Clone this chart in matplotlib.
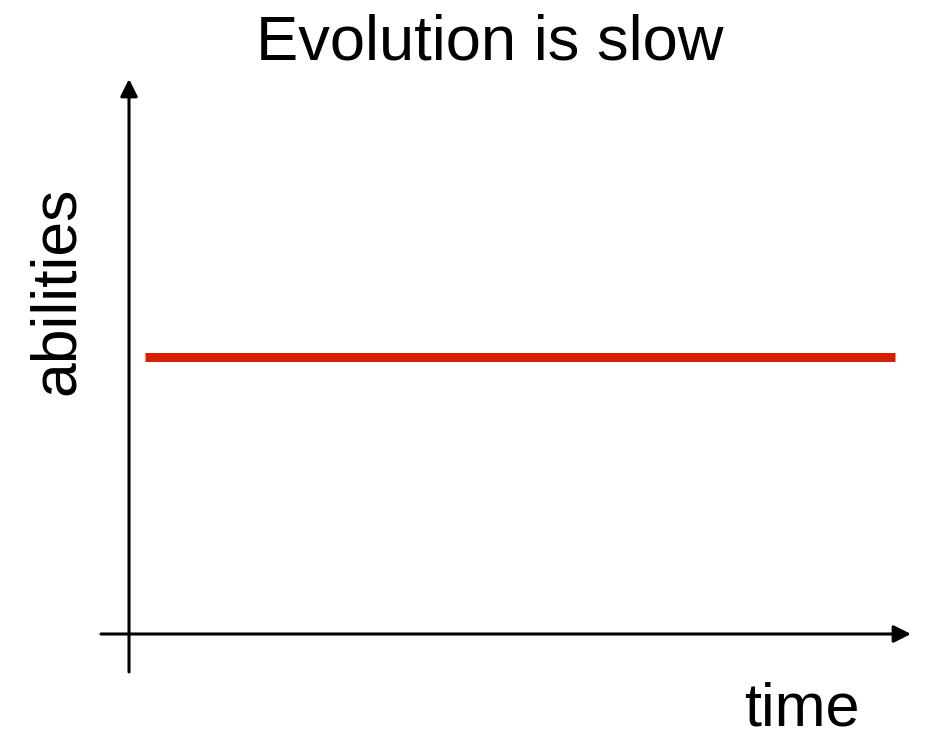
import matplotlib.pyplot as plt

# one flat curve: abilities do not change over time
time = [0.02, 0.98]
abilities = [0.5, 0.5]

plt.rcParams['font.family'] = ['Liberation Sans', 'DejaVu Sans']

fig = plt.figure(figsize=(9.27, 7.32), dpi=100)
W, H = 927, 732
x0, y0, x1, y1 = 129, 634, 911, 79
ax = fig.add_axes([x0 / W, 1 - y0 / H, (x1 - x0) / W, (y0 - y1) / H])
ax.set_xlim(0, 1)
ax.set_ylim(0, 1)
ax.axis('off')

ax.plot(time, abilities, color='#d62100', lw=6.5, solid_capstyle='butt')

arrow = dict(arrowstyle='-|>', lw=2.2, color='black', mutation_scale=26, shrinkA=0, shrinkB=0)
ax.annotate('', xy=(0, 1), xytext=(0, -38 / 555), xycoords='axes fraction', arrowprops=arrow, annotation_clip=False)
ax.annotate('', xy=(1, 0), xytext=(-28 / 782, 0), xycoords='axes fraction', arrowprops=arrow, annotation_clip=False)

fig.text(490 / W, 1 - 60 / H, 'Evolution is slow', fontsize=45.5, ha='center', va='baseline')
fig.text(57 / W, 1 - 291 / H, 'abilities', fontsize=45, rotation=90, ha='center', va='center')
fig.text(802 / W, 1 - 726 / H, 'time', fontsize=44, ha='center', va='baseline')

fig.savefig('out.png', dpi=100)
